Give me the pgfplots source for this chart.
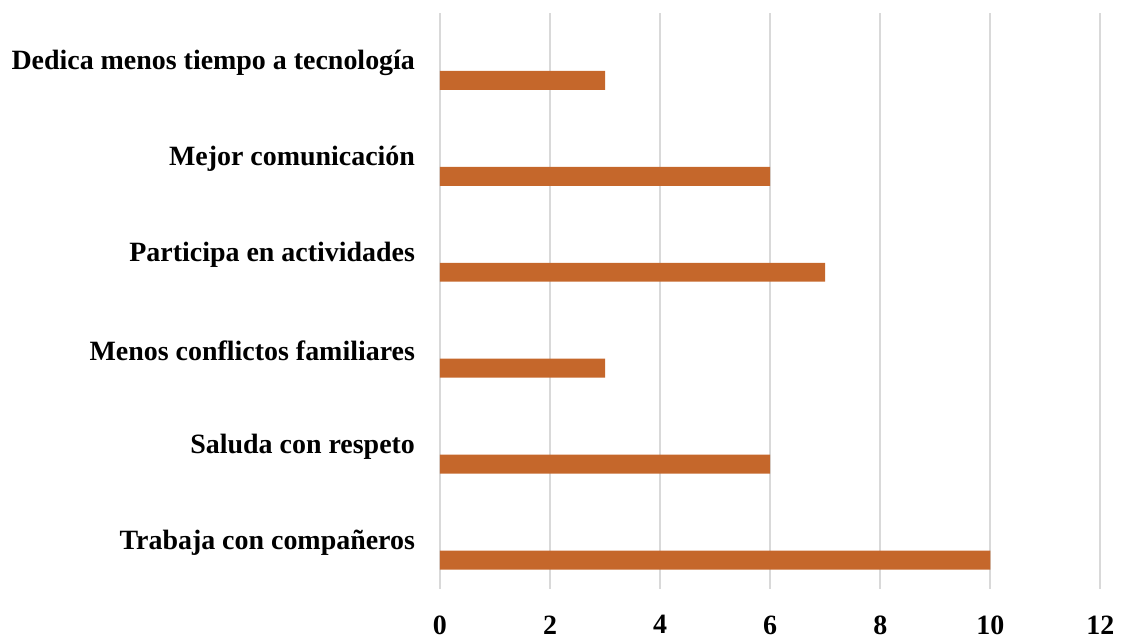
\documentclass[border=0pt]{standalone}
\usepackage{pgfplots}
\pgfplotsset{compat=1.18}
\usepackage{fontspec}
\setmainfont{Liberation Serif}
\definecolor{barorange}{RGB}{197,103,43}
\definecolor{gridgray}{RGB}{217,217,217}
\begin{document}
\begin{tikzpicture}[font=\fontsize{14}{16}\selectfont\bfseries]
\begin{axis}[
    scale only axis,
    width=331pt,
    height=288.5pt,
    xbar,
    bar width=9.5pt,
    bar shift=-9.75pt,
    xmin=0, xmax=12,
    ymin=-0.5, ymax=5.5,
    xtick={0,2,4,6,8,10,12},
    ytick={0,1,2,3,4,5},
    yticklabels={Trabaja con compañeros,Saluda con respeto,Menos conflictos familiares,Participa en actividades,Mejor comunicación,Dedica menos tiempo a tecnología},
    axis line style={draw=none},
    major tick length=0pt,
    xmajorgrids,
    grid style={gridgray, line width=1pt},
    yticklabel style={anchor=east, xshift=-9pt, yshift=-1pt},
    xticklabel style={anchor=north, yshift=-10pt},
    /pgf/number format/assume math mode=true,
    clip=false,
]
\addplot[fill=barorange, draw=none] coordinates {
    (10,0) (6,1) (3,2) (7,3) (6,4) (3,5)
};
\end{axis}
\path ([xshift=-220.5pt, yshift=-22.5pt]current axis.south west) rectangle ([xshift=9pt, yshift=6.5pt]current axis.north east);
\end{tikzpicture}
\end{document}
